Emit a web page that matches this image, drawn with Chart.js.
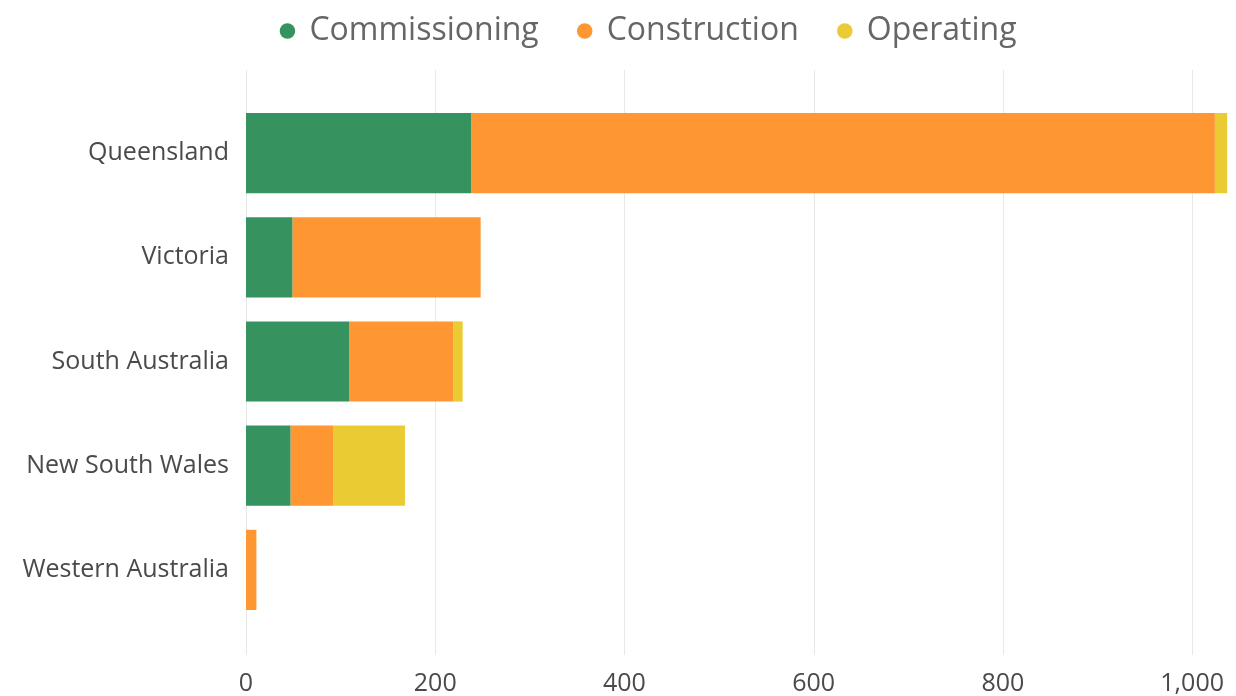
<!DOCTYPE html>
<html>
<head>
<meta charset="utf-8">
<script src="https://cdn.jsdelivr.net/npm/chart.js@4/dist/chart.umd.min.js"></script>
<style>
  html, body { margin: 0; padding: 0; background: #fff; }
  #wrap { width: 1236px; height: 696px; position: relative; }
</style>
</head>
<body>
<div id="wrap"><canvas id="chart"></canvas></div>
<script>
const states = ['Queensland', 'Victoria', 'South Australia', 'New South Wales', 'Western Australia'];
const commissioning = [238, 49, 109, 47, 0];
const construction = [786, 199, 110, 45, 11];
const operating = [13, 0, 10, 76, 0];
const xTicks = [0, 200, 400, 600, 800, 1000];

const colors = { commissioning: '#36925e', construction: '#fe9632', operating: '#ebcb33' };
const font = "'Open Sans', 'Noto Sans', sans-serif";

// legend sits a little right of centre, and the vertical grid lines
// run a bit past the plot area, like the original
const extendedGrid = {
  id: 'extendedGrid',
  afterInit(chart) {
    const fit = chart.legend.fit;
    chart.legend.fit = function () { fit.call(this); this.height = 126; };
  },
  afterLayout(chart) {
    chart.legend.left += 34;
    chart.legend.right += 34;
  },
  beforeDatasetsDraw(chart) {
    const {ctx, chartArea, scales: {x}} = chart;
    ctx.save();
    ctx.strokeStyle = '#e8e8e8';
    ctx.lineWidth = 1;
    x.ticks.forEach(t => {
      const px = Math.round(x.getPixelForValue(t.value)) + 0.5;
      ctx.beginPath();
      ctx.moveTo(px, chartArea.top - 31);
      ctx.lineTo(px, chartArea.bottom + 33);
      ctx.stroke();
    });
    ctx.restore();
  }
};

new Chart(document.getElementById('chart'), {
  type: 'bar',
  data: {
    labels: states,
    datasets: [
      {label: 'Commissioning', data: commissioning, backgroundColor: colors.commissioning},
      {label: 'Construction', data: construction, backgroundColor: colors.construction},
      {label: 'Operating', data: operating, backgroundColor: colors.operating}
    ]
  },
  options: {
    indexAxis: 'y',
    responsive: true,
    maintainAspectRatio: false,
    animation: false,
    layout: {padding: {top: -25, left: 0, right: 6, bottom: 0}},
    datasets: {bar: {categoryPercentage: 1, barPercentage: 0.77, borderWidth: 0}},
    plugins: {
      tooltip: {enabled: false},
      legend: {
        position: 'top',
        labels: {
          usePointStyle: true,
          pointStyle: 'circle',
          boxWidth: 12,
          boxHeight: 11,
          padding: 40,
          color: '#666',
          font: {family: font, size: 32}
        }
      }
    },
    scales: {
      x: {
        stacked: true,
        min: 0,
        max: 1040,
        afterBuildTicks: scale => { scale.ticks = xTicks.map(v => ({value: v})); },
        afterFit: scale => { scale.height = 74; scale.paddingLeft = 0; scale.paddingRight = 0; },
        grid: {display: false},
        border: {display: false},
        ticks: {
          padding: 39,
          color: '#4a4a4a',
          font: {family: font, size: 25},
          callback: v => v.toLocaleString('en-US')
        }
      },
      y: {
        stacked: true,
        afterFit: scale => { scale.width = 246; },
        grid: {display: false, drawTicks: false},
        border: {display: false},
        ticks: {
          padding: 17,
          color: '#4a4a4a',
          font: {family: font, size: 25}
        }
      }
    }
  },
  plugins: [extendedGrid]
});
</script>
</body>
</html>
